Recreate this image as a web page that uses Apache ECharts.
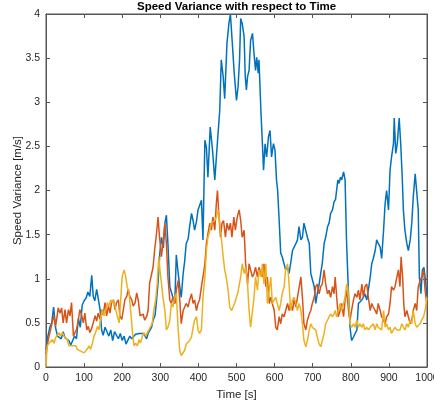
<!DOCTYPE html>
<html><head><meta charset="utf-8">
<script src="https://cdn.jsdelivr.net/npm/echarts@6/dist/echarts.min.js"></script>
<style>html,body{margin:0;padding:0;background:#fff}#c{width:434px;height:405px}</style>
</head><body><div id="c"></div>
<script>
const titleText = 'Speed Variance with respect to Time';
const xName = 'Time [s]';
const yName = 'Speed Variance [m/s]';
const xTicks = [0,100,200,300,400,500,600,700,800,900,1000];
const yTicks = [0,0.5,1,1.5,2,2.5,3,3.5,4];

const blueT = [0,5,10,15,20,25,30,35,40,45,50,55,60,65,70,75,80,85,90,95,100,105,110,115,120,124,128,133,137,142,146,150,155,160,165,170,175,180,185,190,195,200,205,210,215,220,225,230,235,240,245,250,255,260,264,268,272,277,281,286,290,294,299,303,308,312,316,320,325,329,333,338,342,347,351,355,360,364,368,373,377,382,386,390,395,399,404,408,412,417,421,425,431,437,443,449,456,460,465,469,475,480,484,489,494,500,504,508,511,515,520,523,526,529,533,537,542,546,550,553,557,559,564,568,571,575,579,584,588,592,597,601,605,608,612,616,620,625,629,634,638,642,647,651,656,660,664,669,673,677,682,686,691,695,699,704,708,712,717,721,725,730,734,739,743,747,752,756,760,766,769,773,776,781,785,789,794,798,802,807,811,816,820,824,829,833,837,842,846,851,855,859,864,868,872,877,881,886,890,894,899,903,907,912,914,918,922,927,931,935,938,942,947,951,956,960,964,969,973,977,980,984,988,992,997,1000];
const blueV = [0.2,0.35,0.45,0.5,0.68,0.45,0.35,0.33,0.32,0.40,0.33,0.35,0.30,0.25,0.27,0.35,0.32,0.55,0.45,0.70,0.75,0.78,0.85,0.80,1.04,0.80,0.75,0.88,0.87,0.65,0.42,0.36,0.45,0.40,0.35,0.42,0.30,0.40,0.38,0.32,0.38,0.30,0.35,0.26,0.28,0.35,0.32,0.30,0.37,0.36,0.38,0.36,0.38,0.35,0.32,0.38,0.40,0.45,0.53,0.58,0.75,0.95,1.30,1.47,1.35,1.63,1.72,1.40,0.91,0.85,0.79,0.72,1.27,1.06,0.91,0.79,1.06,1.2,1.40,1.45,1.59,1.74,1.66,1.55,1.65,1.78,1.80,1.89,1.44,2.57,2.49,2.15,2.72,2.46,2.12,2.49,2.91,3.48,3.29,3.04,3.67,3.89,4.0,3.67,3.33,3.02,3.17,3.48,3.95,3.89,3.74,3.29,3.14,3.29,3.36,3.70,3.78,3.55,3.36,3.51,3.33,3.48,2.91,2.53,2.23,2.53,2.38,2.61,2.68,2.38,2.53,2.46,2.12,2.0,1.66,1.29,1.25,1.23,1.10,1.13,1.06,1.17,1.32,1.32,1.40,1.44,1.59,1.44,1.47,1.63,1.63,1.47,1.40,1.06,1.06,0.91,0.72,0.83,0.94,1.06,1.17,1.40,1.47,1.59,1.63,1.74,1.78,1.87,1.90,2.12,2.08,2.15,2.12,2.21,2.12,1.40,0.83,0.45,0.30,0.34,0.33,0.42,0.72,0.72,0.76,0.79,0.83,0.76,0.87,1.02,1.17,1.23,1.32,1.44,1.40,1.36,1.23,1.55,1.85,2.0,1.78,2.23,2.38,2.53,2.82,2.42,2.53,2.82,2.53,2.15,1.78,1.55,1.40,1.32,1.44,1.63,1.93,2.19,2.19,1.78,1.02,0.83,1.10,1.13,0.94,0.80];

const orangeT = [0,6,12,17,21,25,28,32,37,41,45,50,54,59,63,67,72,76,80,85,89,94,98,102,107,111,115,120,124,129,133,137,142,146,150,155,159,164,168,172,177,181,185,190,194,199,203,207,212,216,220,225,229,234,238,242,247,251,255,259,264,268,272,277,281,285,290,294,298,303,307,312,316,320,325,329,333,338,342,347,351,355,360,364,368,373,377,382,386,390,395,399,403,408,412,417,421,425,430,434,438,443,447,450,453,458,462,466,471,475,480,484,488,493,497,502,507,511,515,520,524,529,533,537,542,546,550,555,559,564,568,572,577,581,586,590,594,599,603,607,612,616,620,625,629,634,638,642,647,651,656,660,664,669,673,677,682,686,691,695,699,704,708,712,717,721,725,730,734,739,743,747,752,756,759,763,767,772,776,781,785,789,794,798,802,807,811,816,820,824,829,833,837,842,846,851,855,859,864,868,872,877,881,886,890,894,899,903,907,912,916,921,925,929,932,936,939,942,947,951,956,960,964,969,973,977,982,986,991,995,1000];
const orangeV = [0.15,0.31,0.42,0.52,0.58,0.46,0.54,0.67,0.61,0.67,0.50,0.65,0.50,0.65,0.58,0.73,0.35,0.39,0.42,0.54,0.65,0.58,0.50,0.61,0.42,0.46,0.39,0.44,0.50,0.58,0.52,0.61,0.54,0.65,0.59,0.73,0.58,0.69,0.61,0.73,0.76,0.65,0.73,0.76,0.58,0.54,0.65,0.76,0.80,0.88,0.80,0.76,0.69,0.73,0.84,0.76,0.58,0.58,0.60,0.53,0.57,0.64,0.95,0.95,1.13,1.32,1.51,1.70,1.47,1.25,1.40,1.63,1.40,1.02,0.76,0.72,0.79,0.72,0.87,0.98,0.76,0.49,0.64,0.68,0.72,0.68,0.76,0.83,0.72,0.76,0.64,0.72,0.76,0.91,1.02,1.17,1.40,1.51,1.63,1.55,1.70,1.55,1.85,2.0,1.78,1.47,1.63,1.66,1.47,1.63,1.55,1.63,1.47,1.70,1.55,1.70,1.78,1.66,1.47,1.55,1.17,0.94,1.17,1.10,1.02,1.06,1.13,1.02,1.13,1.06,1.02,1.17,0.91,1.02,0.72,0.79,0.72,0.64,0.45,0.42,0.57,0.49,0.60,0.57,0.64,0.72,0.64,0.72,0.64,0.76,0.68,0.79,0.79,1.02,0.79,0.49,0.42,0.53,0.60,0.64,0.72,0.79,0.91,0.94,0.83,0.91,0.94,1.10,0.94,0.83,0.87,0.79,0.91,0.83,1.02,0.79,0.57,0.64,0.72,0.57,0.76,0.87,0.64,0.53,0.64,0.76,0.83,0.79,0.87,0.76,0.94,0.79,0.91,0.94,0.79,0.64,0.72,0.68,0.64,0.60,0.72,0.64,0.57,0.53,0.49,0.57,0.60,0.72,0.91,0.87,0.91,1.02,1.10,0.91,1.25,1.02,0.72,0.57,0.64,0.57,0.49,0.53,0.64,0.72,0.64,0.91,0.98,1.02,1.10,0.87,0.70];

const yellowT = [0,3,8,12,17,21,25,30,34,38,43,47,52,56,60,65,69,73,78,82,87,91,95,100,104,108,113,117,122,126,130,135,139,143,148,152,157,161,165,170,174,178,183,187,192,196,200,205,209,213,218,222,227,231,235,240,244,248,253,257,262,266,270,275,279,283,288,292,296,299,303,307,312,316,320,325,329,333,338,342,347,351,355,360,364,368,373,377,382,386,390,395,399,403,408,412,417,421,425,430,434,438,443,447,452,456,460,465,469,473,478,482,487,491,495,500,504,508,511,515,520,524,529,533,537,542,546,550,555,559,564,568,572,577,581,586,590,594,599,603,607,612,616,620,625,629,634,638,642,647,651,656,660,664,669,673,677,682,686,691,695,699,704,708,712,717,721,725,730,734,739,743,747,752,756,759,763,767,772,776,781,785,789,792,796,798,802,807,811,816,820,824,829,833,837,842,846,851,855,859,864,868,872,877,881,886,890,894,899,903,907,912,916,921,925,929,934,938,942,947,951,956,960,964,969,973,977,982,986,991,995,1000];
const yellowV = [0,0.24,0.27,0.26,0.31,0.27,0.33,0.31,0.39,0.35,0.39,0.35,0.37,0.31,0.24,0.26,0.24,0.22,0.24,0.20,0.21,0.18,0.18,0.16,0.14,0.20,0.24,0.20,0.27,0.35,0.39,0.46,0.42,0.54,0.65,0.58,0.65,0.73,0.69,0.76,0.73,0.76,0.65,0.58,0.50,0.76,1.03,1.10,1.03,0.91,0.84,0.65,0.39,0.24,0.27,0.24,0.31,0.27,0.35,0.39,0.35,0.39,0.42,0.46,0.50,0.65,0.76,0.95,1.25,1.10,0.95,0.79,0.64,0.42,0.45,0.53,0.72,0.68,0.79,0.83,0.42,0.19,0.13,0.15,0.19,0.26,0.26,0.30,0.34,0.45,0.53,0.57,0.42,0.38,0.42,0.79,1.02,1.32,1.47,1.55,1.63,1.63,1.66,1.70,1.78,1.63,1.47,1.25,1.10,1.02,0.87,0.68,0.64,0.68,0.72,0.72,0.85,0.95,1.02,1.17,1.06,1.13,0.94,0.64,0.45,0.64,0.79,1.02,0.87,1.10,1.02,1.17,0.94,1.17,0.72,0.87,1.02,0.72,0.76,0.79,0.72,0.64,0.72,0.83,0.91,1.10,1.17,0.94,0.64,0.76,0.79,0.72,0.64,0.72,0.64,0.49,0.30,0.23,0.30,0.42,0.49,0.45,0.45,0.42,0.34,0.26,0.23,0.25,0.38,0.49,0.53,0.57,0.60,0.57,0.60,0.64,0.57,0.64,0.72,0.64,0.72,0.79,0.94,0.91,0.64,0.49,0.45,0.49,0.45,0.53,0.45,0.49,0.45,0.49,0.42,0.45,0.42,0.45,0.47,0.49,0.42,0.49,0.45,0.47,0.42,0.64,0.45,0.49,0.42,0.45,0.38,0.42,0.45,0.42,0.43,0.42,0.49,0.45,0.42,0.49,0.45,0.53,0.49,0.64,0.49,0.45,0.43,0.49,0.53,0.57,0.64,0.79];

function pairs(t, v){ return t.map((x,i)=>[x, v[i]]); }

const axisColor = '#555555';
const textColor = '#262626';
const font = 'Helvetica, "Liberation Sans", Arial, sans-serif';
const plain = v => String(v);

const chart = echarts.init(document.getElementById('c'), null, {renderer:'canvas'});
chart.setOption({
  animation: false,
  backgroundColor: '#ffffff',
  title: {
    text: titleText, left: 132, top: -4,
    textStyle: {fontFamily: font, fontSize: 11.5, fontWeight: 'bold', color: '#000'}
  },
  grid: {left: 46, right: 7, top: 14, bottom: 38, containLabel: false, outerBoundsMode: 'none',
         show: true, borderColor: axisColor, borderWidth: 1, backgroundColor: 'transparent'},
  xAxis: [
    {type:'value', min: xTicks[0], max: xTicks[xTicks.length-1], interval: 100, position:'bottom',
     name: xName, nameLocation:'middle', nameGap: 22,
     nameTextStyle:{fontFamily: font, fontSize: 11.5, color: textColor},
     axisLine:{show:true, lineStyle:{color: axisColor, width:1}},
     axisTick:{show:true, inside:true, length:4, lineStyle:{color: axisColor}},
     axisLabel:{fontFamily: font, fontSize: 10.5, color: textColor, margin: 6, showMaxLabel: true, formatter: plain},
     splitLine:{show:false}},
    {type:'value', min: xTicks[0], max: xTicks[xTicks.length-1], interval: 100, position:'top',
     axisLine:{show:true, onZero:false, lineStyle:{color: axisColor, width:1}},
     axisTick:{show:true, inside:true, length:4, lineStyle:{color: axisColor}},
     axisLabel:{show:false}, splitLine:{show:false}}
  ],
  yAxis: [
    {type:'value', min: yTicks[0], max: yTicks[yTicks.length-1], interval: 0.5, position:'left',
     name: yName, nameLocation:'middle', nameGap: 22, nameMoveOverlap: false,
     nameTextStyle:{fontFamily: font, fontSize: 11.5, color: textColor},
     axisLine:{show:true, lineStyle:{color: axisColor, width:1}},
     axisTick:{show:true, inside:true, length:4, lineStyle:{color: axisColor}},
     axisLabel:{fontFamily: font, fontSize: 10.5, color: textColor, margin: 6, formatter: plain},
     splitLine:{show:false}},
    {type:'value', min: yTicks[0], max: yTicks[yTicks.length-1], interval: 0.5, position:'right',
     axisLine:{show:true, onZero:false, lineStyle:{color: axisColor, width:1}},
     axisTick:{show:true, inside:true, length:4, lineStyle:{color: axisColor}},
     axisLabel:{show:false}, splitLine:{show:false}}
  ],
  series: [
    {type:'line', name:'blue', data: pairs(blueT, blueV), showSymbol:false, lineStyle:{color:'#0072BD', width:1.5}, itemStyle:{color:'#0072BD'}, clip: true},
    {type:'line', name:'orange', data: pairs(orangeT, orangeV), showSymbol:false, lineStyle:{color:'#D95319', width:1.5}, itemStyle:{color:'#D95319'}, clip: true},
    {type:'line', name:'yellow', data: pairs(yellowT, yellowV), showSymbol:false, lineStyle:{color:'#EDB120', width:1.5}, itemStyle:{color:'#EDB120'}, clip: true}
  ]
});
</script></body></html>
